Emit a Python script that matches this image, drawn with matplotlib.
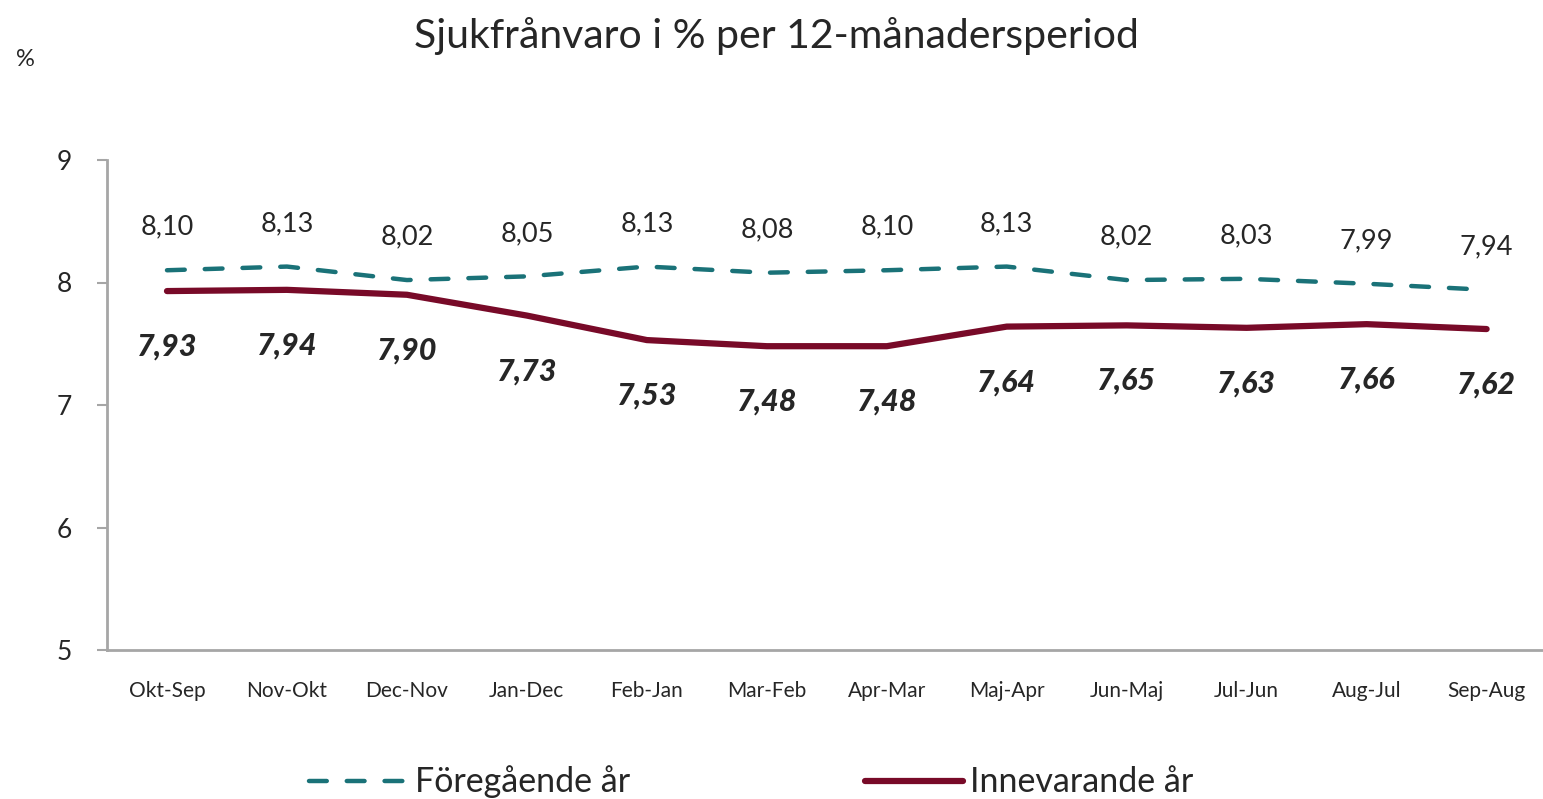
import matplotlib.pyplot as plt
import numpy as np

perioder = ["Okt-Sep", "Nov-Okt", "Dec-Nov", "Jan-Dec", "Feb-Jan", "Mar-Feb",
            "Apr-Mar", "Maj-Apr", "Jun-Maj", "Jul-Jun", "Aug-Jul", "Sep-Aug"]
foregaende = [8.10, 8.13, 8.02, 8.05, 8.13, 8.08, 8.10, 8.13, 8.02, 8.03, 7.99, 7.94]
innevarande = [7.93, 7.94, 7.90, 7.73, 7.53, 7.48, 7.48, 7.64, 7.65, 7.63, 7.66, 7.62]
y_ticks = [5, 6, 7, 8, 9]

TEAL = "#1A7278"
MAROON = "#780A28"
GREY = "#A6A6A6"
TXT = "#262626"

plt.rcParams['font.family'] = ['Lato', 'DejaVu Sans']


def fmt(v):
    return ("%.2f" % v).replace(".", ",")


def main():
    fig = plt.figure(figsize=(15.43, 7.99), dpi=100)
    ax = fig.add_axes([107 / 1543, 1 - 650 / 799, (1543 - 107) / 1543, 490 / 799])
    x = np.arange(len(perioder))

    ax.plot(x, foregaende, color=TEAL, lw=3.2, dashes=(4, 4.5),
            dash_capstyle="round", label="Föregående år")
    ax.plot(x, innevarande, color=MAROON, lw=4.5, solid_capstyle="round",
            label="Innevarande år")

    for xi, v in zip(x, foregaende):
        ax.annotate(fmt(v), (xi, v), xytext=(0, 31), textcoords="offset points",
                    ha="center", va="center", fontsize=19.5, color=TXT)
    for xi, v in zip(x, innevarande):
        ax.annotate(fmt(v), (xi, v), xytext=(0, -40), textcoords="offset points",
                    ha="center", va="center", fontsize=22, color=TXT,
                    fontweight="black", fontstyle="italic")

    ax.set_ylim(5, 9)
    ax.set_xlim(-0.5, 11.47)
    ax.set_yticks(y_ticks)
    ax.set_xticks(x)
    ax.set_xticklabels(perioder, fontsize=15, color=TXT)
    ax.tick_params(axis="y", labelsize=19, labelcolor=TXT, color=GREY,
                   length=7, width=1.5, pad=18)
    ax.tick_params(axis="x", length=0, pad=22)
    for s in ["top", "right"]:
        ax.spines[s].set_visible(False)
    for s in ["left", "bottom"]:
        ax.spines[s].set_color(GREY)
        ax.spines[s].set_linewidth(2)

    fig.text(0.503, 1 - 36 / 799, "Sjukfrånvaro i % per 12-månadersperiod",
             ha="center", va="center", fontsize=29.5, color=TXT)
    fig.text(25 / 1543, 1 - 60 / 799, "%", ha="center", va="center",
             fontsize=17, color=TXT)

    fig.legend(loc="center", bbox_to_anchor=(0.487, 1 - 782 / 799), ncol=2,
               frameon=False, fontsize=24.5, handlelength=2.9,
               handletextpad=0.2, columnspacing=6.9, labelcolor=TXT)

    fig.savefig("out.png", dpi=100)


if __name__ == "__main__":
    main()
